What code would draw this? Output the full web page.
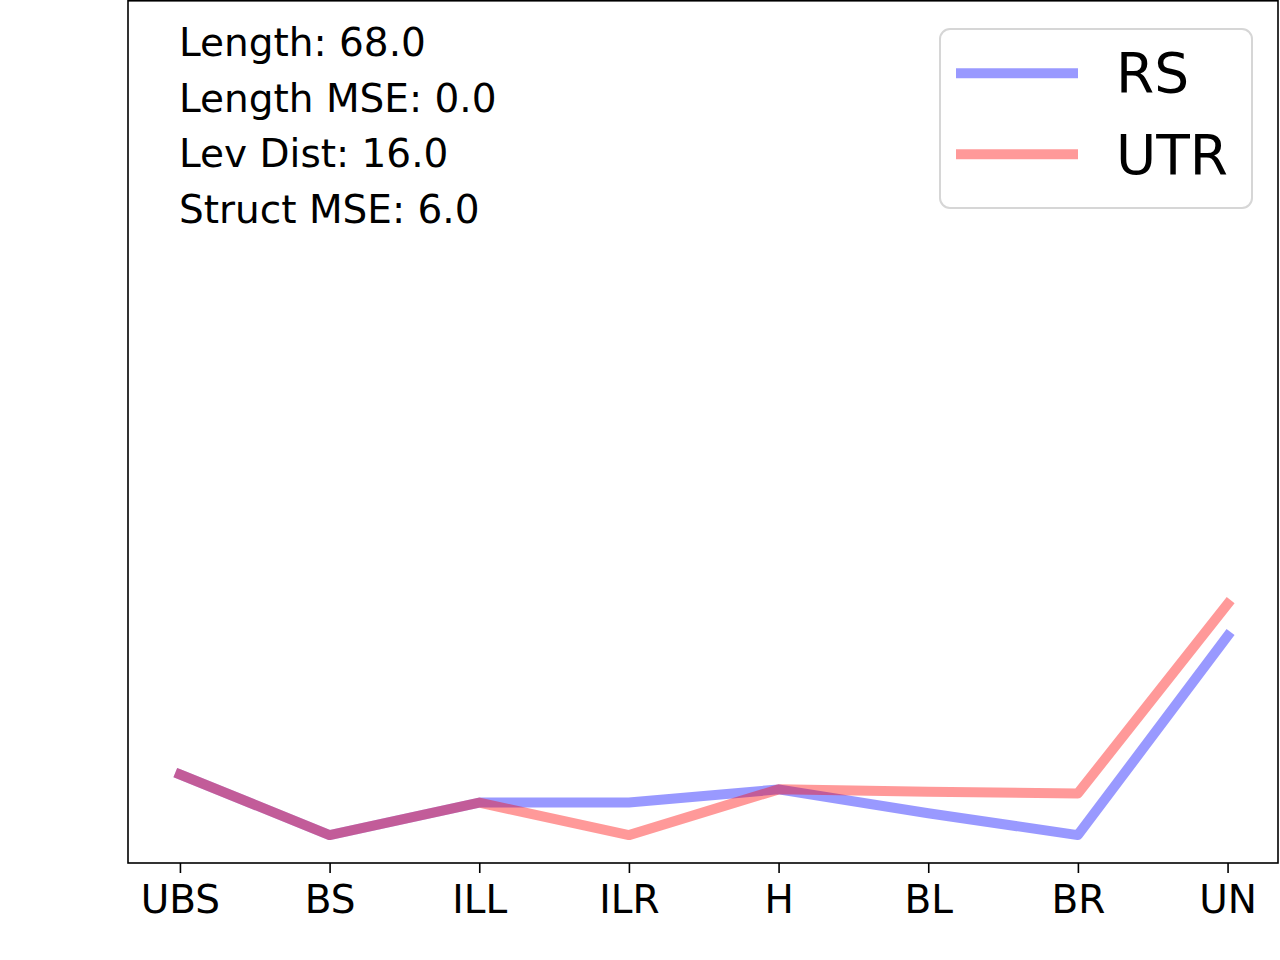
<!DOCTYPE html>
<html>
<head>
<meta charset="utf-8">
<script src="https://cdn.jsdelivr.net/npm/d3@7"></script>
<style>
  body { margin: 0; background: #fff; }
  svg { display: block; font-family: "DejaVu Sans", sans-serif; }
</style>
</head>
<body>
<div class="chart"></div>
<script>
let categories = ["UBS", "BS", "ILL", "ILR", "H", "BL", "BR", "UN"];
let rsValues = [3.08, 0.97, 2.1, 2.1, 2.56, 1.73, 0.97, 7.89];
let utrValues = [3.08, 0.97, 2.1, 0.97, 2.56, 2.48, 2.42, 9.0];
let statLines = ["Length: 68.0", "Length MSE: 0.0", "Lev Dist: 16.0", "Struct MSE: 6.0"];

let width = 1280,
  height = 960,
  plotLeft = 128,
  plotRight = 1278,
  plotTop = 0.8,
  plotBottom = 863;

let svg = d3
  .select(".chart")
  .append("svg")
  .attr("width", width)
  .attr("height", height);

// index scale with matplotlib-like margins
let xScale = d3
  .scaleLinear()
  .domain([-0.347, categories.length - 1 + 0.337])
  .range([plotLeft, plotRight]);

let yScale = d3
  .scaleLinear()
  .domain([0, 30])
  .range([plotBottom, 0]);

let line = d3
  .line()
  .x((d, i) => xScale(i))
  .y(d => yScale(d));

// RS first, UTR drawn over it
[
  { values: rsValues, color: "blue" },
  { values: utrValues, color: "red" }
].forEach(s => {
  svg
    .append("path")
    .datum(s.values)
    .attr("d", line)
    .attr("fill", "none")
    .attr("stroke", s.color)
    .attr("stroke-opacity", 0.4)
    .attr("stroke-width", 10)
    .attr("stroke-linecap", "square")
    .attr("stroke-linejoin", "round");
});

// x axis
let xAxis = d3
  .axisBottom(xScale)
  .tickValues(d3.range(categories.length))
  .tickFormat(i => categories[i])
  .tickSize(10)
  .tickPadding(12);

let xAxisGroup = svg
  .append("g")
  .attr("transform", "translate(0," + plotBottom + ")")
  .call(xAxis);

xAxisGroup.select(".domain").remove();
xAxisGroup.selectAll("line").attr("stroke", "#000").attr("stroke-width", 1.6);
xAxisGroup
  .selectAll("text")
  .attr("fill", "#000")
  .style("font-size", "39px")
  .style("font-family", "DejaVu Sans");

// frame
svg
  .append("rect")
  .attr("x", plotLeft)
  .attr("y", plotTop)
  .attr("width", plotRight - plotLeft)
  .attr("height", plotBottom - plotTop)
  .attr("fill", "none")
  .attr("stroke", "#000")
  .attr("stroke-width", 1.6);

// stats text
svg
  .selectAll(".stat")
  .data(statLines)
  .enter()
  .append("text")
  .attr("class", "stat")
  .attr("x", 179)
  .attr("y", (d, i) => 55.7 + i * 55.8)
  .style("font-size", "39px")
  .text(d => d);

// legend
let legend = svg.append("g");
legend
  .append("rect")
  .attr("x", 940)
  .attr("y", 29)
  .attr("width", 312)
  .attr("height", 179)
  .attr("rx", 10)
  .attr("fill", "#fff")
  .attr("fill-opacity", 0.8)
  .attr("stroke", "#d6d6d6")
  .attr("stroke-width", 2);

let legendItems = [
  { name: "RS", color: "blue" },
  { name: "UTR", color: "red" }
];

legendItems.forEach((item, i) => {
  let y = 73.3 + i * 81;
  legend
    .append("line")
    .attr("x1", 956)
    .attr("x2", 1078)
    .attr("y1", y)
    .attr("y2", y)
    .attr("stroke", item.color)
    .attr("stroke-opacity", 0.4)
    .attr("stroke-width", 10);
  legend
    .append("text")
    .attr("x", 1116)
    .attr("y", 92 + i * 82.3)
    .style("font-size", "55px")
    .text(item.name);
});
</script>
</body>
</html>
